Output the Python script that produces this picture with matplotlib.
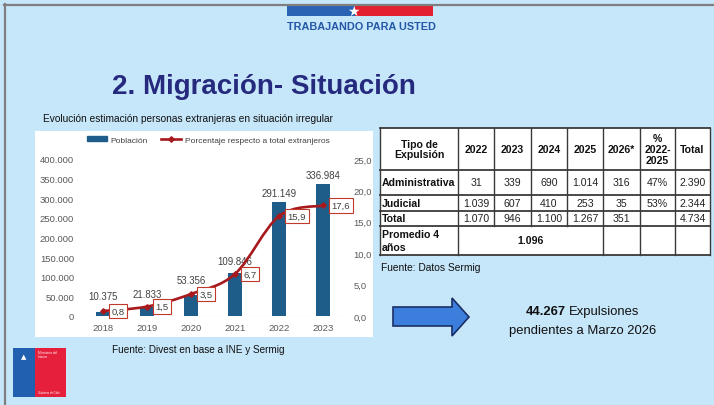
import matplotlib
matplotlib.use("Agg")
import matplotlib.pyplot as plt
from matplotlib.patches import Rectangle, Polygon, PathPatch
from matplotlib.path import Path
from matplotlib.lines import Line2D

plt.rcParams['font.family'] = ['Liberation Sans', 'DejaVu Sans']

# ---------------- data ----------------
years = ["2018", "2019", "2020", "2021", "2022", "2023"]
poblacion = [10375, 21833, 53356, 109846, 291149, 336984]
porcentaje = [0.8, 1.5, 3.5, 6.7, 15.9, 17.6]
left_ticks = [0, 50000, 100000, 150000, 200000, 250000, 300000, 350000, 400000]
right_ticks = [0, 5, 10, 15, 20, 25]

table_header = ["Tipo de\nExpulsión", "2022", "2023", "2024", "2025", "2026*", "%\n2022-\n2025", "Total"]
row_admin = ["Administrativa", "31", "339", "690", "1.014", "316", "47%", "2.390"]
row_judicial = ["Judicial", "1.039", "607", "410", "253", "35", "53%", "2.344"]
row_total = ["Total", "1.070", "946", "1.100", "1.267", "351", "", "4.734"]
promedio_label = "Promedio 4\naños"
promedio_value = "1.096"

W, H = 714, 406
BG = "#C6E6F9"

def fx(x):
    return x / W

def fy(y):
    return 1 - y / H

def fmt_thousands(v):
    return f"{int(v):,}".replace(",", ".")

def fmt_dec(v):
    return f"{v:.1f}".replace(".", ",")

fig = plt.figure(figsize=(W / 100, H / 100), dpi=100, facecolor=BG)

# slide border
fig.add_artist(Line2D([fx(4), fx(714)], [fy(5.5), fy(5.5)], color="#7f7f7f", lw=1.6))
fig.add_artist(Line2D([fx(4.5), fx(4.5)], [fy(5), fy(406)], color="#7f7f7f", lw=1.6))

# top logo
fig.add_artist(Rectangle((fx(287), fy(17)), fx(355) - fx(287), fy(6) - fy(17), color="#2A62B4", lw=0))
fig.add_artist(Rectangle((fx(355), fy(17)), fx(433) - fx(355), fy(6) - fy(17), color="#E2202F", lw=0))
fig.text(fx(353), fy(11.5), "★", color="white", fontsize=10, ha="center", va="center",
         family=["DejaVu Sans"])
fig.text(fx(361), fy(27.5), "TRABAJANDO PARA USTED", color="#2458A6", fontsize=7.8,
         fontweight="bold", ha="center", va="center")

# title & subtitle
fig.text(fx(112), fy(87), "2. Migración- Situación", color="#262A7E", fontsize=20,
         fontweight="bold", ha="left", va="center")
fig.text(fx(43), fy(119), "Evolución estimación personas extranjeras en situación irregular",
         color="#111111", fontsize=7.3, ha="left", va="center")

# white chart panel
fig.add_artist(Rectangle((fx(35), fy(338)), fx(373) - fx(35), fy(132) - fy(338),
                         facecolor="white", edgecolor="none", zorder=-1))

# ---------------- chart ----------------
ax = fig.add_axes([fx(81), fy(317), fx(345) - fx(81), fy(160) - fy(317)])
ax.set_facecolor("none")
x = list(range(len(years)))
BAR = "#1E5D89"
RED = "#A8191D"
ax.bar(x, poblacion, width=0.33, color=BAR, zorder=2)
ax.set_xlim(-0.5, len(years) - 0.5)
ax.set_ylim(0, 400000)
ax.set_xticks(x)
ax.set_xticklabels(years)
ax.set_yticks(left_ticks)
ax.set_yticklabels([fmt_thousands(v) for v in left_ticks])
ax.tick_params(axis="both", length=0, labelsize=6.8, labelcolor="#595959")
ax.tick_params(axis="x", pad=5)
ax.tick_params(axis="y", pad=5)
for s in ax.spines.values():
    s.set_visible(False)
ax.axhline(0, color="#d9d9d9", lw=0.8, zorder=1)

label_offsets = [8, 6, 7, 5, 3, 3]
for xi, v, off in zip(x, poblacion, label_offsets):
    ax.annotate(fmt_thousands(v), (xi, v), xytext=(0, off), textcoords="offset points",
                ha="center", va="bottom", fontsize=6.9, color="#404040")

ax2 = ax.twinx()
ax2.set_ylim(0, 25)
ax2.set_yticks(right_ticks)
ax2.set_yticklabels([fmt_dec(v) for v in right_ticks])
ax2.tick_params(axis="y", length=0, labelsize=6.8, labelcolor="#595959", pad=6)
for s in ax2.spines.values():
    s.set_visible(False)

# smoothed line (Catmull-Rom -> cubic Bezier) through the data points
pts = list(zip(x, porcentaje))
verts = [pts[0]]
codes = [Path.MOVETO]
n = len(pts)
for i in range(n - 1):
    p0 = pts[i - 1] if i > 0 else pts[i]
    p1 = pts[i]
    p2 = pts[i + 1]
    p3 = pts[i + 2] if i + 2 < n else pts[i + 1]
    c1 = (p1[0] + (p2[0] - p0[0]) / 6, p1[1] + (p2[1] - p0[1]) / 6)
    c2 = (p2[0] - (p3[0] - p1[0]) / 6, p2[1] - (p3[1] - p1[1]) / 6)
    verts += [c1, c2, p2]
    codes += [Path.CURVE4] * 3
ax2.add_patch(PathPatch(Path(verts, codes), fill=False, edgecolor=RED, lw=1.9, zorder=3))
ax2.plot(x, porcentaje, linestyle="none", color=RED, marker="D", markersize=2.8, zorder=4)
for xi, v in zip(x, porcentaje):
    ax2.annotate(fmt_dec(v), (xi, v), xytext=(6, 0), textcoords="offset points",
                 ha="left", va="center", fontsize=6.8, color="#404040", zorder=5,
                 bbox=dict(boxstyle="square,pad=0.3", fc="white", ec="#C0392B", lw=0.8))

# legend
handles = [Rectangle((0, 0), 1, 1, color=BAR),
           Line2D([0], [0], color=RED, lw=1.9, marker="D", markersize=2.8)]
fig.legend(handles, ["Población", "Porcentaje respecto a total extranjeros"],
           loc="center", bbox_to_anchor=(fx(208), fy(141)), ncol=2, frameon=False,
           fontsize=6, labelcolor="#404040", handlelength=2.4, handleheight=0.5,
           columnspacing=1.5, handletextpad=0.5)

fig.text(fx(112), fy(350), "Fuente: Divest en base a INE y Sermig", fontsize=7.2,
         color="#111111", ha="left", va="center")

# ---------------- table ----------------
col_x = [380, 458, 494, 531, 567, 603, 640, 675, 710]
row_y = [129, 171, 196, 212, 227, 256]
fig.add_artist(Rectangle((fx(380), fy(256)), fx(710) - fx(380), fy(129) - fy(256),
                         facecolor="white", edgecolor="none"))
LC = "#3a3a3a"
for yy in row_y:
    fig.add_artist(Line2D([fx(380), fx(710)], [fy(yy), fy(yy)], color=LC, lw=1.3))
for xx in col_x:
    if xx in (494, 531, 567):
        fig.add_artist(Line2D([fx(xx), fx(xx)], [fy(129), fy(227)], color=LC, lw=1.0))
    else:
        fig.add_artist(Line2D([fx(xx), fx(xx)], [fy(129), fy(256)], color=LC, lw=1.0))

def cell_center(ci, ri):
    return (col_x[ci] + col_x[ci + 1]) / 2, (row_y[ri] + row_y[ri + 1]) / 2

TFS = 7.6
for ci, txt in enumerate(table_header):
    cx, cy = cell_center(ci, 0)
    fig.text(fx(cx), fy(cy), txt, fontsize=TFS, fontweight="bold", ha="center", va="center",
             color="#111111", linespacing=1.1)
for ri, row in zip([1, 2, 3], [row_admin, row_judicial, row_total]):
    for ci, txt in enumerate(row):
        cx, cy = cell_center(ci, ri)
        if ci == 0:
            fig.text(fx(382), fy(cy), txt, fontsize=TFS, fontweight="bold", ha="left",
                     va="center", color="#111111")
        else:
            fig.text(fx(cx), fy(cy), txt, fontsize=TFS, ha="center", va="center", color="#222222")
_, cy = cell_center(0, 4)
fig.text(fx(382), fy(cy), promedio_label, fontsize=TFS, fontweight="bold", ha="left",
         va="center", color="#111111", linespacing=1.35)
fig.text(fx((458 + 603) / 2), fy(cy), promedio_value, fontsize=TFS, fontweight="bold",
         ha="center", va="center", color="#111111")

fig.text(fx(381), fy(268), "Fuente: Datos Sermig", fontsize=7.4, color="#111111",
         ha="left", va="center")

# ---------------- arrow & note ----------------
arrow_pts = [(393, 308), (452, 308), (452, 299), (469, 318), (452, 337), (452, 327), (393, 327)]
fig.add_artist(Polygon([(fx(px), fy(py)) for px, py in arrow_pts], closed=True,
                       facecolor="#3C7EDC", edgecolor="#1B2F66", lw=1.2))
fig.text(fx(566), fy(312), "44.267", fontsize=9.4, fontweight="bold", ha="right",
         va="center", color="#111111")
fig.text(fx(569), fy(312), "Expulsiones", fontsize=9.4, ha="left", va="center", color="#111111")
fig.text(fx(583), fy(331), "pendientes a Marzo 2026", fontsize=9.4, ha="center", va="center",
         color="#111111")

# ministry logo
fig.add_artist(Rectangle((fx(13), fy(398)), fx(35) - fx(13), fy(349) - fy(398),
                         color="#2160B0", lw=0))
fig.add_artist(Rectangle((fx(35), fy(398)), fx(66) - fx(35), fy(349) - fy(398),
                         color="#E51F3C", lw=0))
fig.text(fx(24), fy(357), "▲", color="white", fontsize=5, ha="center", va="center",
         family=["DejaVu Sans"])
fig.text(fx(38), fy(355), "Ministerio del\nInterior", color="white", fontsize=2.3,
         ha="left", va="center")
fig.text(fx(38), fy(393), "Gobierno de Chile", color="white", fontsize=2.0,
         ha="left", va="center")

fig.savefig("out.png", dpi=100, facecolor=BG)
